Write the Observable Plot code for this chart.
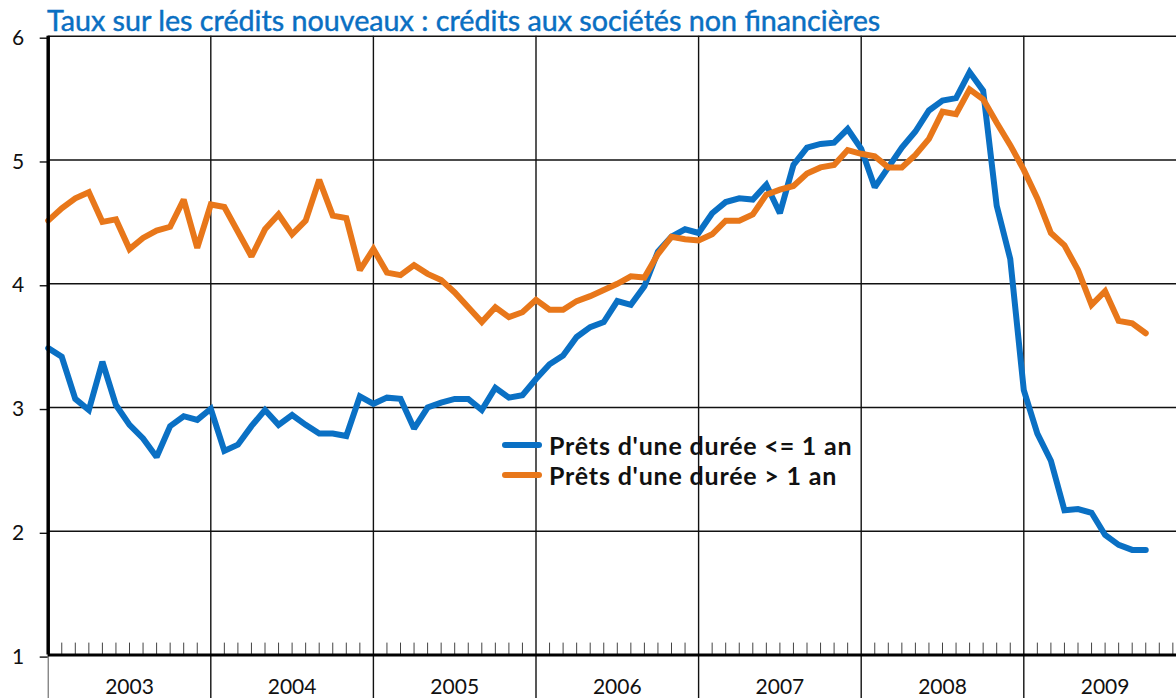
<!DOCTYPE html>
<html><head><meta charset="utf-8">
<script src="https://cdn.jsdelivr.net/npm/d3@7"></script>
<script src="https://cdn.jsdelivr.net/npm/@observablehq/plot@0.6"></script>
<style>
body{margin:0;background:#fff;width:1176px;height:698px;overflow:hidden;position:relative;font-family:Lato,"Noto Sans",sans-serif}
#title{position:absolute;left:47px;top:6px;font-size:28.7px;line-height:28.7px;color:#0a6fc2;white-space:nowrap;-webkit-text-stroke:0.45px #0a6fc2}
#legend{position:absolute;left:502px;top:430px;font-size:25px;font-weight:700;letter-spacing:0.8px;color:#111}
.item{display:flex;align-items:center;height:30px}
.sw{width:40px;height:6px;border-radius:3px;margin-right:7px}
</style></head><body>
<div id="chart"></div>
<div id="title">Taux sur les crédits nouveaux : crédits aux sociétés non financières</div>
<div id="legend"></div>
<script>
// Monthly data, January 2003 to October 2009
const seriesNames = ["Prêts d'une durée <= 1 an", "Prêts d'une durée > 1 an"];
const seriesColors = ["#0a70c4", "#e8771a"];
const years = ["2003","2004","2005","2006","2007","2008","2009"];
const shortTerm = [
  3.48, 3.41, 3.07, 2.98, 3.37, 3.02, 2.86, 2.75, 2.60, 2.85, 2.93, 2.90,
  2.99, 2.65, 2.70, 2.85, 2.98, 2.86, 2.94, 2.86, 2.79, 2.79, 2.77, 3.09,
  3.03, 3.08, 3.07, 2.83, 3.00, 3.04, 3.07, 3.07, 2.98, 3.16, 3.08, 3.10,
  3.23, 3.35, 3.42, 3.57, 3.65, 3.69, 3.86, 3.83, 3.98, 4.26, 4.38, 4.44,
  4.41, 4.57, 4.66, 4.69, 4.68, 4.80, 4.57, 4.96, 5.10, 5.13, 5.14, 5.25,
  5.09, 4.78, 4.94, 5.10, 5.23, 5.40, 5.48, 5.50, 5.71, 5.56, 4.63, 4.20,
  3.14, 2.79, 2.57, 2.17, 2.18, 2.15, 1.97, 1.89, 1.85, 1.85
];
const longTerm = [
  4.51, 4.61, 4.69, 4.74, 4.50, 4.52, 4.28, 4.37, 4.43, 4.46, 4.68, 4.29,
  4.64, 4.62, 4.42, 4.22, 4.44, 4.56, 4.40, 4.51, 4.84, 4.55, 4.53, 4.11,
  4.28, 4.09, 4.07, 4.15, 4.08, 4.03, 3.93, 3.81, 3.69, 3.81, 3.73, 3.77,
  3.87, 3.79, 3.79, 3.86, 3.90, 3.95, 4.00, 4.06, 4.05, 4.24, 4.38, 4.36,
  4.35, 4.40, 4.51, 4.51, 4.56, 4.72, 4.76, 4.79, 4.89, 4.94, 4.96, 5.08,
  5.05, 5.03, 4.94, 4.94, 5.04, 5.17, 5.39, 5.37, 5.57, 5.49, 5.30, 5.12,
  4.92, 4.69, 4.41, 4.31, 4.11, 3.83, 3.94, 3.70, 3.68, 3.60
];
const yTicks = [1, 2, 3, 4, 5, 6];

const rows = [];
shortTerm.forEach((v, i) => rows.push({m: i, v, s: seriesNames[0]}));
longTerm.forEach((v, i) => rows.push({m: i, v, s: seriesNames[1]}));

const W = 1176, H = 698;
const mL = 47.7, mT = 35.7, mB = 43.4, mR = 0;
const monthPx = 13.55;
const xMax = (W - mL - mR) / monthPx;
const unitPx = (H - mT - mB) / 5;
const yearStarts = years.map((y, i) => i * 12);
const months = d3.range(1, Math.floor(xMax) + 1).filter(m => m % 12 !== 0);
const yBottom = 1 - (mB) / unitPx;

const chart = Plot.plot({
  width: W, height: H,
  marginLeft: mL, marginTop: mT, marginBottom: mB, marginRight: mR,
  style: {fontFamily: "Lato, 'Noto Sans', sans-serif", background: "#fff", overflow: "visible"},
  x: {domain: [0, xMax], axis: null},
  y: {domain: [1, 6], axis: null},
  color: {domain: seriesNames, range: seriesColors},
  marks: [
    Plot.ruleY(yTicks.filter(t => t > 1), {stroke: "#111", strokeWidth: 1.4}),
    Plot.ruleX(yearStarts.filter(d => d > 0), {y1: yBottom, y2: 6, stroke: "#111", strokeWidth: 1.4}),
    Plot.ruleX(months, {y1: 1, y2: 1 + 12 / unitPx, stroke: "#444", strokeWidth: 1}),
    Plot.ruleX([0], {y1: yBottom, y2: 1, stroke: "#555", strokeWidth: 1}),
    Plot.axisY(yTicks, {tickSize: 8, tickPadding: 16, tickFormat: d => String(d), fontSize: 21, stroke: "#111", strokeWidth: 1.4, color: "#111", label: null, dy: 2}),
    Plot.line(rows, {x: "m", y: "v", stroke: "s", strokeWidth: 6, strokeLinejoin: "miter", strokeMiterlimit: 2, curve: "linear"}),
    Plot.ruleX([0], {y1: 1, y2: 6, stroke: "#000", strokeWidth: 3.5}),
    Plot.ruleY([1], {x1: 0, x2: xMax, stroke: "#000", strokeWidth: 3}),
    Plot.text(years, {x: (d, i) => yearStarts[i] + 6, y: 1, dy: 32, text: d => d, fontSize: 21, fill: "#111"})
  ]
});
document.getElementById("chart").appendChild(chart);

const legend = document.getElementById("legend");
seriesNames.forEach((n, i) => {
  const it = document.createElement("div");
  it.className = "item";
  const sw = document.createElement("span");
  sw.className = "sw";
  sw.style.background = seriesColors[i];
  const t = document.createElement("span");
  t.textContent = n;
  it.appendChild(sw); it.appendChild(t);
  legend.appendChild(it);
});
</script></body></html>
